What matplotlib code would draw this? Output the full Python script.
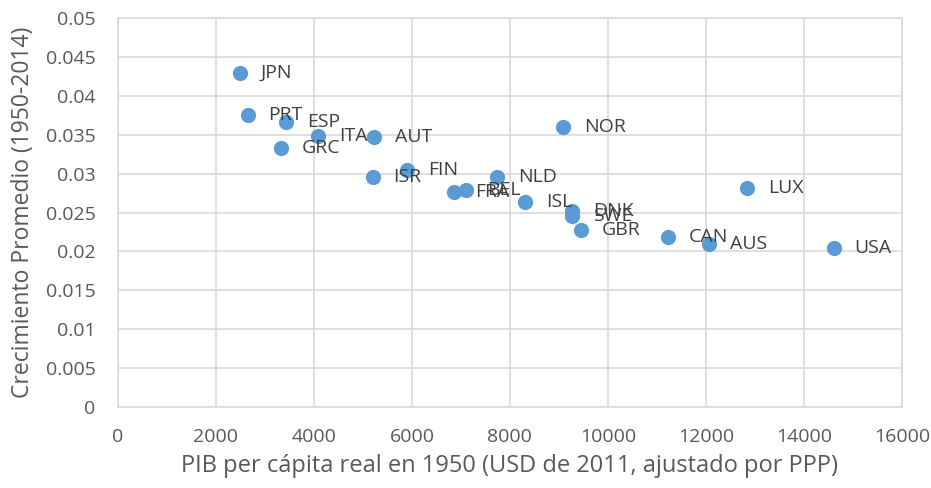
import matplotlib
matplotlib.use("Agg")
import matplotlib.pyplot as plt

# --- Data ---
countries = ["JPN", "PRT", "ESP", "GRC", "ITA", "AUT", "ISR", "FIN", "FRA", "BEL",
             "NLD", "ISL", "NOR", "DNK", "SWE", "GBR", "CAN", "AUS", "LUX", "USA"]
gdp_1950 = [2490, 2650, 3430, 3330, 4080, 5220, 5200, 5900, 6860, 7100,
            7740, 8310, 9080, 9270, 9270, 9450, 11220, 12060, 12840, 14610]
growth = [0.0430, 0.0375, 0.0366, 0.0333, 0.0348, 0.0347, 0.0296, 0.0305, 0.0277, 0.0279,
          0.0296, 0.0263, 0.0360, 0.0252, 0.0245, 0.0227, 0.0218, 0.0209, 0.0281, 0.0204]

plt.rcParams["font.family"] = ["Open Sans", "DejaVu Sans"]

fig = plt.figure(figsize=(9.31, 4.88), dpi=100)
ax = fig.add_axes([0.1267, 0.166, 0.842, 0.797])

ax.scatter(gdp_1950, growth, s=120, color="#5b9bd5", zorder=3, linewidths=0)

# data labels to the right of each point (Excel style)
for name, x, y in zip(countries, gdp_1950, growth):
    ax.annotate(name, (x, y), xytext=(15, 0), textcoords="offset points",
                va="center", ha="left", fontsize=14, color="#404040", zorder=4)

ax.set_xlim(0, 16000)
ax.set_ylim(0, 0.05)
ax.set_xticks(range(0, 16001, 2000))
ax.set_yticks([i * 0.005 for i in range(11)])
ax.set_yticklabels(["0", "0.005", "0.01", "0.015", "0.02", "0.025", "0.03",
                    "0.035", "0.04", "0.045", "0.05"])
ax.grid(True, color="#d9d9d9", linewidth=1.2)
ax.set_axisbelow(True)
for sp in ax.spines.values():
    sp.set_color("#d9d9d9")
    sp.set_linewidth(1.2)
ax.tick_params(length=0, labelsize=14, colors="#595959")
ax.tick_params(axis="x", pad=15)
ax.tick_params(axis="y", pad=16)

ax.set_xlabel("PIB per cápita real en 1950 (USD de 2011, ajustado por PPP)",
              fontsize=17, color="#595959", labelpad=6)
ax.set_ylabel("Crecimiento Promedio (1950-2014)", fontsize=16.5, color="#595959",
              labelpad=8)

fig.savefig("out.png", dpi=100)
